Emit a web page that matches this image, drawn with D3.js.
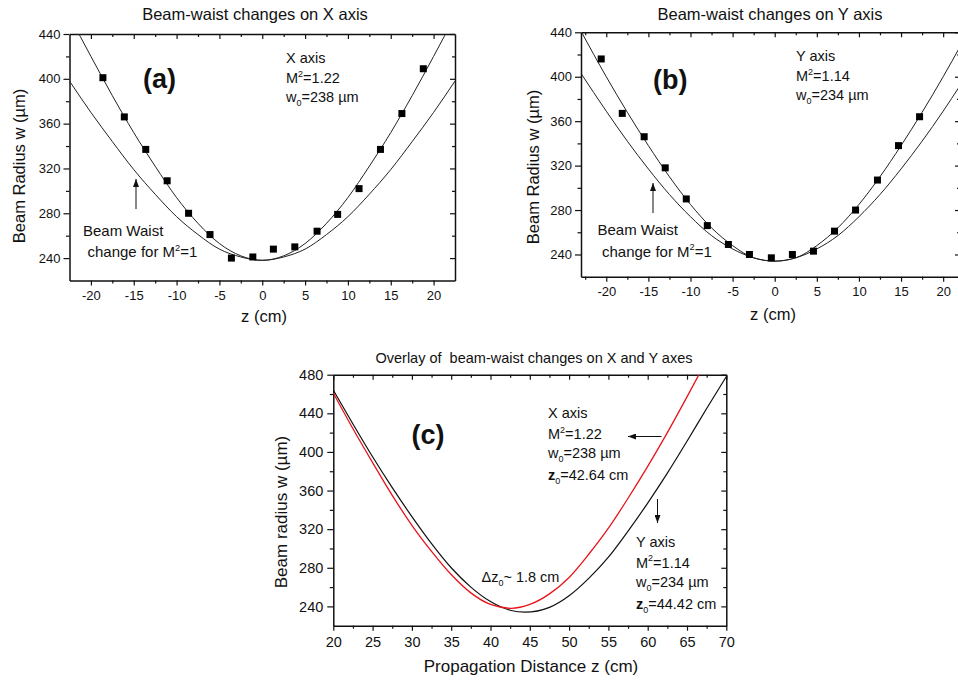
<!DOCTYPE html>
<html>
<head>
<meta charset="utf-8">
<script src="https://cdn.jsdelivr.net/npm/d3@7"></script>
<style>
  body { margin: 0; background: #fff; }
  text { font-family: Arial, "Liberation Sans", sans-serif; fill: #111; }
</style>
</head>
<body>
<svg id="chart" width="958" height="681"></svg>
<script>
// ---- panel (a): X axis -------------------------------------------------
const aMeasZ = [-18.6, -16.1, -13.6, -11.1, -8.6, -6.1, -3.6, -1.1, 1.3, 3.8, 6.4, 8.8, 11.3, 13.8, 16.3, 18.8];
const aMeasW = [401, 366, 337, 309, 280, 261, 240, 241, 248, 250, 264, 279, 302, 337, 369, 409];
const aCurveZ = [-22.5, -20, -17.5, -15, -12.5, -10, -7.5, -5, -2.5, 0, 2.5, 5, 7.5, 10, 12.5, 15, 17.5, 20, 22.5];
const aFitW   = [456, 420, 385, 352, 322, 294, 271, 253, 242, 238, 242, 253, 271, 294, 322, 352, 385, 420, 456];
const aIdealW = [398, 370, 344, 319, 297, 277, 261, 248, 241, 238, 241, 248, 261, 277, 297, 319, 344, 370, 398];
const aXTicks = [-20, -15, -10, -5, 0, 5, 10, 15, 20];
const aYTicks = [240, 280, 320, 360, 400, 440];

// ---- panel (b): Y axis -------------------------------------------------
const bMeasZ = [-20.6, -18.1, -15.5, -13.0, -10.5, -8.0, -5.5, -3.0, -0.4, 2.1, 4.6, 7.1, 9.6, 12.2, 14.7, 17.2];
const bMeasW = [416, 367, 346, 318, 290, 266, 249, 240, 237, 240, 243, 261, 280, 307, 338, 364];
const bCurveZ = [-23, -20, -17.5, -15, -12.5, -10, -7.5, -5, -2.5, 0, 2.5, 5, 7.5, 10, 12.5, 15, 17.5, 20, 22];
const bFitW   = [441, 400, 368, 338, 310, 285, 264, 248, 237, 234, 237, 248, 264, 285, 310, 338, 368, 400, 427];
const bIdealW = [403, 369, 342, 317, 294, 274, 257, 245, 237, 234, 237, 245, 257, 274, 294, 317, 342, 369, 392];
const bXTicks = [-20, -15, -10, -5, 0, 5, 10, 15, 20];
const bYTicks = [240, 280, 320, 360, 400, 440];

// ---- panel (c): overlay ------------------------------------------------
const cXZ = [20, 22.5, 25, 27.5, 30, 32.5, 35, 37.5, 40, 42.64, 45, 47.5, 50, 52.5, 55, 57.5, 60, 62.5, 65, 67.5];
const cXW = [461, 424, 389, 355, 324, 297, 273, 254, 242, 238, 242, 253, 270, 294, 321, 352, 385, 420, 457, 495];
const cYZ = [20, 22.5, 25, 27.5, 30, 32.5, 35, 37.5, 40, 42.5, 44.42, 47.5, 50, 52.5, 55, 57.5, 60, 62.5, 65, 67.5, 70];
const cYW = [464, 429, 395, 363, 333, 305, 280, 260, 245, 236, 234, 239, 251, 269, 291, 318, 347, 378, 411, 445, 478];
const cXTicks = [20, 25, 30, 35, 40, 45, 50, 55, 60, 65, 70];
const cYTicks = [240, 280, 320, 360, 400, 440, 480];

const svg = d3.select('#chart');

const defs = svg.append('defs');
defs.append('marker')
  .attr('id', 'head')
  .attr('viewBox', '0 0 8 6')
  .attr('refX', 8).attr('refY', 3)
  .attr('markerWidth', 8).attr('markerHeight', 6)
  .attr('markerUnits', 'userSpaceOnUse')
  .attr('orient', 'auto')
  .append('path')
  .attr('d', 'M0,0L8,3L0,6Z')
  .attr('fill', '#111');

const styleAxis = (a, size, minor) => {
  a.attr('font-family', null).attr('font-size', size);
  a.select('.domain').attr('stroke', '#111').attr('stroke-width', minor ? 0 : 1.5);
  a.selectAll('.tick line').attr('stroke', '#111').attr('stroke-width', 1.2);
  a.selectAll('.tick text').attr('fill', '#111');
  return a;
};

const panel = cfg => {
  let
    g = svg.append('g'),
    x = d3.scaleLinear().domain(cfg.xDomain).range([cfg.left, cfg.right]),
    y = d3.scaleLinear().domain(cfg.yDomain).range([cfg.bottom, cfg.top]),
    xStep = cfg.xTicks[1] - cfg.xTicks[0],
    yStep = cfg.yTicks[1] - cfg.yTicks[0],
    xMinor = d3.range(cfg.xTicks[0] - xStep / 2, cfg.xDomain[1] + 1e-6, xStep)
      .filter(v => v > cfg.xDomain[0] && v < cfg.xDomain[1]),
    yMinor = d3.range(cfg.yTicks[0] - yStep / 2, cfg.yDomain[1] + 1e-6, yStep)
      .filter(v => v > cfg.yDomain[0] && v < cfg.yDomain[1]),
    fmt = d => String(d)
    ;

  defs.append('clipPath').attr('id', cfg.id)
    .append('rect')
    .attr('x', cfg.left).attr('y', cfg.top)
    .attr('width', cfg.right - cfg.left).attr('height', cfg.bottom - cfg.top);

  // bottom / left: outward ticks with labels
  styleAxis(g.append('g').attr('transform', `translate(0,${cfg.bottom})`)
    .call(d3.axisBottom(x).tickValues(cfg.xTicks).tickFormat(fmt).tickSize(5).tickSizeOuter(0).tickPadding(cfg.xPad)), cfg.tickFont);
  styleAxis(g.append('g').attr('transform', `translate(0,${cfg.bottom})`)
    .call(d3.axisBottom(x).tickValues(xMinor).tickFormat('').tickSize(3).tickSizeOuter(0)), cfg.tickFont, true);
  styleAxis(g.append('g').attr('transform', `translate(${cfg.left},0)`)
    .call(d3.axisLeft(y).tickValues(cfg.yTicks).tickFormat(fmt).tickSize(6).tickSizeOuter(0).tickPadding(cfg.yPad)), cfg.tickFont);
  styleAxis(g.append('g').attr('transform', `translate(${cfg.left},0)`)
    .call(d3.axisLeft(y).tickValues(yMinor).tickFormat('').tickSize(3.5).tickSizeOuter(0)), cfg.tickFont, true);

  // top / right: mirrored, ticks pointing inward, no labels
  styleAxis(g.append('g').attr('transform', `translate(0,${cfg.top})`)
    .call(d3.axisTop(x).tickValues(cfg.xTicks).tickFormat('').tickSize(-5).tickSizeOuter(0)), cfg.tickFont);
  styleAxis(g.append('g').attr('transform', `translate(0,${cfg.top})`)
    .call(d3.axisTop(x).tickValues(xMinor).tickFormat('').tickSize(-3).tickSizeOuter(0)), cfg.tickFont, true);
  styleAxis(g.append('g').attr('transform', `translate(${cfg.right},0)`)
    .call(d3.axisRight(y).tickValues(cfg.yTicks).tickFormat('').tickSize(-5).tickSizeOuter(0)), cfg.tickFont);
  styleAxis(g.append('g').attr('transform', `translate(${cfg.right},0)`)
    .call(d3.axisRight(y).tickValues(yMinor).tickFormat('').tickSize(-3).tickSizeOuter(0)), cfg.tickFont, true);

  g.append('text')
    .attr('x', cfg.titleX).attr('y', cfg.titleY)
    .attr('text-anchor', 'middle')
    .attr('font-size', cfg.titleFont)
    .style('white-space', 'pre')
    .text(cfg.title);
  g.append('text')
    .attr('x', cfg.xLabelX).attr('y', cfg.xLabelY)
    .attr('text-anchor', 'middle')
    .attr('font-size', cfg.labelFont)
    .text(cfg.xLabel);
  g.append('text')
    .attr('transform', `translate(${cfg.yLabelX},${cfg.yLabelY}) rotate(-90)`)
    .attr('text-anchor', 'middle')
    .attr('font-size', cfg.labelFont)
    .text(cfg.yLabel);

  let plot = g.append('g').attr('clip-path', `url(#${cfg.id})`);
  return {g, plot, x, y};
};

const curve = (p, zs, ws, color, width) => {
  let line = d3.line()
    .x(d => p.x(d[0]))
    .y(d => p.y(d[1]))
    .curve(d3.curveMonotoneX);
  p.plot.append('path')
    .datum(d3.zip(zs, ws))
    .attr('d', line)
    .attr('fill', 'none')
    .attr('stroke', color)
    .attr('stroke-width', width);
};

const squares = (p, zs, ws) => {
  p.g.append('g')
    .selectAll('rect')
    .data(d3.zip(zs, ws))
    .join('rect')
    .attr('x', d => p.x(d[0]) - 3.5)
    .attr('y', d => p.y(d[1]) - 3.5)
    .attr('width', 7)
    .attr('height', 7)
    .attr('fill', '#000');
};

// parts: [text, 'sup' | 'sub' | null, bold]
const rich = (g, x, y, parts, size) => {
  let
    t = g.append('text').attr('x', x).attr('y', y).attr('font-size', size),
    shift = 0
    ;
  parts.forEach(([str, kind, bold]) => {
    let target = kind === 'sup' ? -0.42 * size : kind === 'sub' ? 0.3 * size : 0;
    t.append('tspan')
      .attr('dy', target - shift)
      .attr('font-size', kind ? size * 0.62 : size)
      .attr('font-weight', bold ? 'bold' : null)
      .style('white-space', 'pre')
      .text(str);
    shift = target;
  });
  return t;
};

const arrow = (g, x1, y1, x2, y2) => {
  g.append('line')
    .attr('x1', x1).attr('y1', y1).attr('x2', x2).attr('y2', y2)
    .attr('stroke', '#111').attr('stroke-width', 1)
    .attr('marker-end', 'url(#head)');
};

// ---- (a) ----
const pa = panel({
  id: 'clipA', left: 69.5, right: 455, top: 34, bottom: 280.5,
  xDomain: [-22.5, 22.5], yDomain: [220, 440],
  xTicks: aXTicks, yTicks: aYTicks, tickFont: 13, xPad: 5, yPad: 3,
  title: 'Beam-waist changes on X axis', titleX: 255, titleY: 20, titleFont: 16.5,
  xLabel: 'z (cm)', xLabelX: 264, xLabelY: 322,
  yLabel: 'Beam Radius w (\u00b5m)', yLabelX: 25, yLabelY: 166, labelFont: 16.5
});
curve(pa, aCurveZ, aIdealW, '#222', 1);
curve(pa, aCurveZ, aFitW, '#222', 1);
squares(pa, aMeasZ, aMeasW);
pa.g.append('text').attr('x', 143).attr('y', 88).attr('font-size', 27).attr('font-weight', 'bold').text('(a)');
rich(pa.g, 286, 63, [['X axis']], 14.5);
rich(pa.g, 286, 83, [['M'], ['2', 'sup'], ['=1.22']], 14.5);
rich(pa.g, 286, 102, [['w'], ['0', 'sub'], ['=238 \u00b5m']], 14.5);
rich(pa.g, 83, 236, [['Beam Waist']], 15);
rich(pa.g, 87.5, 257, [['change for M'], ['2', 'sup'], ['=1']], 15);
arrow(pa.g, 136, 209, 136, 179);

// ---- (b) ----
const pb = panel({
  id: 'clipB', left: 581, right: 960, top: 32.3, bottom: 276.7,
  xDomain: [-23, 22], yDomain: [220, 440],
  xTicks: bXTicks, yTicks: bYTicks, tickFont: 13, xPad: 5, yPad: 3,
  title: 'Beam-waist changes on Y axis', titleX: 770, titleY: 20, titleFont: 16.5,
  xLabel: 'z (cm)', xLabelX: 773, xLabelY: 320,
  yLabel: 'Beam Radius w (\u00b5m)', yLabelX: 539, yLabelY: 167, labelFont: 16.5
});
curve(pb, bCurveZ, bIdealW, '#222', 1);
curve(pb, bCurveZ, bFitW, '#222', 1);
squares(pb, bMeasZ, bMeasW);
pb.g.append('text').attr('x', 653).attr('y', 89).attr('font-size', 27).attr('font-weight', 'bold').text('(b)');
rich(pb.g, 796, 61, [['Y axis']], 14.5);
rich(pb.g, 796, 81, [['M'], ['2', 'sup'], ['=1.14']], 14.5);
rich(pb.g, 796, 99.5, [['w'], ['0', 'sub'], ['=234 \u00b5m']], 14.5);
rich(pb.g, 597.5, 235, [['Beam Waist']], 15);
rich(pb.g, 602, 256.5, [['change for M'], ['2', 'sup'], ['=1']], 15);
arrow(pb.g, 653, 213, 653, 183);

// ---- (c) ----
const pc = panel({
  id: 'clipC', left: 333.3, right: 726.3, top: 374.7, bottom: 625.7,
  xDomain: [20, 70], yDomain: [220, 480],
  xTicks: cXTicks, yTicks: cYTicks, tickFont: 14.5, xPad: 6, yPad: 4,
  title: 'Overlay of  beam-waist changes on X and Y axes', titleX: 534, titleY: 362.5, titleFont: 14.5,
  xLabel: 'Propagation Distance z (cm)', xLabelX: 531, xLabelY: 672,
  yLabel: 'Beam radius w (\u00b5m)', yLabelX: 286.5, yLabelY: 512, labelFont: 17
});
curve(pc, cYZ, cYW, '#111', 1.2);
curve(pc, cXZ, cXW, '#e8141a', 1.3);
pc.g.append('text').attr('x', 411.5).attr('y', 444).attr('font-size', 27).attr('font-weight', 'bold').text('(c)');
rich(pc.g, 548, 418, [['X axis']], 14.5);
rich(pc.g, 548, 439, [['M'], ['2', 'sup'], ['=1.22']], 14.5);
rich(pc.g, 548, 457.5, [['w'], ['0', 'sub'], ['=238 \u00b5m']], 14.5);
rich(pc.g, 548, 480, [['z', null, true], ['0', 'sub'], ['=42.64 cm']], 14.5);
arrow(pc.g, 661.5, 436.5, 628, 436.5);
rich(pc.g, 636, 546.5, [['Y axis']], 14.5);
rich(pc.g, 636, 567.5, [['M'], ['2', 'sup'], ['=1.14']], 14.5);
rich(pc.g, 636, 586.5, [['w'], ['0', 'sub'], ['=234 \u00b5m']], 14.5);
rich(pc.g, 636, 609, [['z', null, true], ['0', 'sub'], ['=44.42 cm']], 14.5);
arrow(pc.g, 657.5, 499, 657.5, 523);
rich(pc.g, 481.5, 581.5, [['\u0394z'], ['0', 'sub'], ['~ 1.8 cm']], 14.5);
</script>
</body>
</html>
